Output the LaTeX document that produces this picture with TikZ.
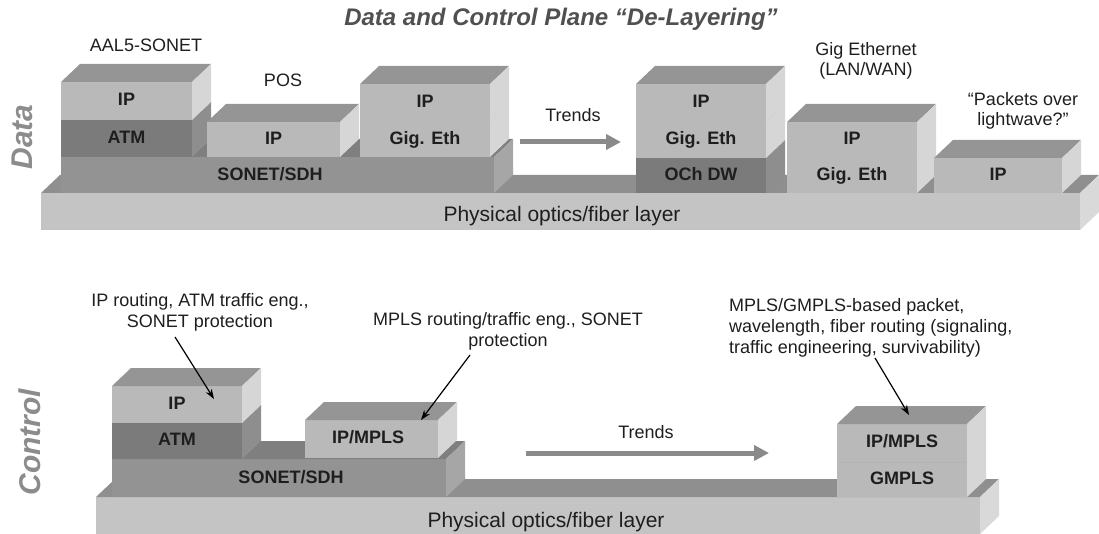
\documentclass[tikz,border=0pt]{standalone}
\usepackage{fontspec}
\setmainfont{Liberation Sans}
\usetikzlibrary{arrows.meta}
\definecolor{lgF}{HTML}{B9B9B9}
\definecolor{lgT}{HTML}{959595}
\definecolor{lgS}{HTML}{D6D6D6}
\definecolor{dkF}{HTML}{7B7B7B}
\definecolor{dkT}{HTML}{6E6E6E}
\definecolor{dkS}{HTML}{8E8E8E}
\definecolor{soF}{HTML}{939393}
\definecolor{soT}{HTML}{7F7F7F}
\definecolor{soS}{HTML}{A6A6A6}
\definecolor{phF}{HTML}{C4C4C4}
\definecolor{phT}{HTML}{8F8F8F}
\definecolor{phS}{HTML}{D9D9D9}
\definecolor{arrG}{HTML}{8A8A8A}
\definecolor{txt}{HTML}{1E1E1E}
\definecolor{ttl}{HTML}{505050}
\definecolor{side}{HTML}{8C8C8C}
% x1, y1 (top), x2, y2 (bottom), front, top, side colours
\newcommand\drawblock[7]{%
  \fill[#5] (#1,#2) rectangle (#3,#4);
  \fill[#6] (#1,#2) -- ++(19,-18) -- ({#3+19},{#2-18}) -- (#3,#2) -- cycle;
  \fill[#7] (#3,#2) -- ({#3+19},{#2-18}) -- ({#3+19},{#4-18}) -- (#3,#4) -- cycle;
}
\tikzset{
  lab/.style={text=txt, inner sep=0pt, font=\fontsize{18}{21}\selectfont},
  boxlab/.style={text=txt, inner sep=0pt, text height=12.9pt, text depth=0pt,
                 font=\fontsize{18}{21}\selectfont\bfseries},
  physlab/.style={text=txt, inner sep=0pt, text height=15pt, text depth=0pt,
                 font=\fontsize{21}{24}\selectfont},
  sidetitle/.style={text=side, inner sep=0pt, rotate=90,
                 font=\fontsize{30}{32}\selectfont\bfseries\itshape},
  trendarrow/.style={draw=arrG, line width=5pt, -{Triangle[length=15pt,width=15pt]}},
  annarrow/.style={draw=black, line width=1.2pt, -{Stealth[length=10pt,width=7pt]}},
}
\begin{document}
\begin{tikzpicture}[x=1pt,y=-1pt]
\useasboundingbox (0,0) rectangle (1099,534);

% ---------------- title ----------------
\node[text=ttl, inner sep=0pt, anchor=base, font=\fontsize{24}{27}\selectfont\bfseries\itshape]
  (title) at (561,26) {Data and Control Plane “De-Layering”};

% ================= DATA PLANE =================
\node[sidetitle] (data) at (22,137) {Data};

\drawblock{41}{193}{1080}{230}{phF}{phT}{phS}
\drawblock{61}{157}{494}{193}{soF}{soT}{soS}
% AAL5-SONET stack
\drawblock{61}{120}{192}{157}{dkF}{dkT}{dkS}
\drawblock{61}{82}{192}{120}{lgF}{lgT}{lgS}
% POS
\drawblock{207}{122}{340}{157}{lgF}{lgT}{lgS}
% IP over Gig Eth over SONET
\drawblock{360}{122}{490}{157}{lgF}{lgT}{lgS}
\drawblock{360}{84}{490}{122}{lgF}{lgT}{lgS}
% OCh DW stack
\drawblock{636}{158}{766}{193}{dkF}{dkT}{dkS}
\drawblock{636}{122}{766}{158}{lgF}{lgT}{lgS}
\drawblock{636}{84}{766}{122}{lgF}{lgT}{lgS}
% Gig Ethernet stack
\drawblock{787}{158}{917}{193}{lgF}{lgT}{lgS}
\drawblock{787}{122}{917}{158}{lgF}{lgT}{lgS}
% Packets over lightwave
\drawblock{934}{158}{1062}{193}{lgF}{lgT}{lgS}

\node[boxlab] (dAIP)  at (126.5,99.5) {IP};
\node[boxlab] (dATM)  at (126.5,137) {ATM};
\node[boxlab] (dSON)  at (270,174) {SONET/SDH};
\node[boxlab] (dPIP)  at (273.5,138.5) {IP};
\node[boxlab] (dGIP)  at (425,101.5) {IP};
\node[boxlab] (dGGE)  at (425,138.5) {Gig. Eth};
\node[boxlab] (dOIP)  at (701,101.5) {IP};
\node[boxlab] (dOGE)  at (701,138.5) {Gig. Eth};
\node[boxlab] (dOCH)  at (701,174) {OCh DW};
\node[boxlab] (dEIP)  at (852,138.5) {IP};
\node[boxlab] (dEGE)  at (852,174) {Gig. Eth};
\node[boxlab] (dLIP)  at (998,174) {IP};
\node[physlab] (dPHY) at (562,214.5) {Physical optics/fiber layer};

\node[lab, anchor=base] (aal5) at (146,52) {AAL5-SONET};
\node[lab, anchor=base] (pos)  at (283,87) {POS};
\node[lab, anchor=base] (trd1) at (573,122) {Trends};
\node[lab, anchor=north, align=center, font=\fontsize{18}{20}\selectfont] (gige) at (866,42) {Gig Ethernet\\(LAN/WAN)};
\node[lab, anchor=north, align=center, font=\fontsize{18}{20}\selectfont] (pkt) at (1023,92) {“Packets over\\lightwave?”};

\coordinate (t1s) at (520,142);
\coordinate (t1e) at (621,142);
\draw[trendarrow] (t1s) -- (t1e);

% ================= CONTROL PLANE =================
\node[sidetitle] (ctrl) at (30,442) {Control};

\drawblock{96}{497}{980}{534}{phF}{phT}{phS}
\drawblock{112}{459}{446}{497}{soF}{soT}{soS}
\drawblock{112}{423}{242}{459}{dkF}{dkT}{dkS}
\drawblock{112}{386}{242}{423}{lgF}{lgT}{lgS}
\drawblock{305}{420}{438}{458}{lgF}{lgT}{lgS}
\drawblock{837}{462}{967}{497}{lgF}{lgT}{lgS}
\drawblock{837}{424}{967}{462}{lgF}{lgT}{lgS}

\node[boxlab] (cIP)   at (177,403) {IP};
\node[boxlab] (cATM)  at (177,439.5) {ATM};
\node[boxlab] (cSON)  at (291,477) {SONET/SDH};
\node[boxlab] (cMPL)  at (368,437.5) {IP/MPLS};
\node[boxlab] (cGMI)  at (902,441.5) {IP/MPLS};
\node[boxlab] (cGMP)  at (902,478) {GMPLS};
\node[physlab] (cPHY) at (546,520) {Physical optics/fiber layer};

\node[lab, anchor=base] (trd2) at (646,438) {Trends};
\coordinate (t2s) at (526,453);
\coordinate (t2e) at (769,453);
\draw[trendarrow] (t2s) -- (t2e);

\node[lab, anchor=north, align=center] (annA) at (200,293) {IP routing, ATM traffic eng.,\\SONET protection};
\node[lab, anchor=north, align=center] (annB) at (508,312) {MPLS routing/traffic eng., SONET\\protection};
\node[lab, anchor=north west, align=left] (annC) at (729,298) {MPLS/GMPLS-based packet,\\wavelength, fiber routing (signaling,\\traffic engineering, survivability)};

\coordinate (aS) at (175,337);
\coordinate (aE) at (214,399);
\coordinate (bS) at (470,355);
\coordinate (bE) at (421,420);
\coordinate (cS) at (875,358);
\coordinate (cE) at (909,415);
\draw[annarrow] (aS) -- (aE);
\draw[annarrow] (bS) -- (bE);
\draw[annarrow] (cS) -- (cE);
\end{tikzpicture}
\end{document}
